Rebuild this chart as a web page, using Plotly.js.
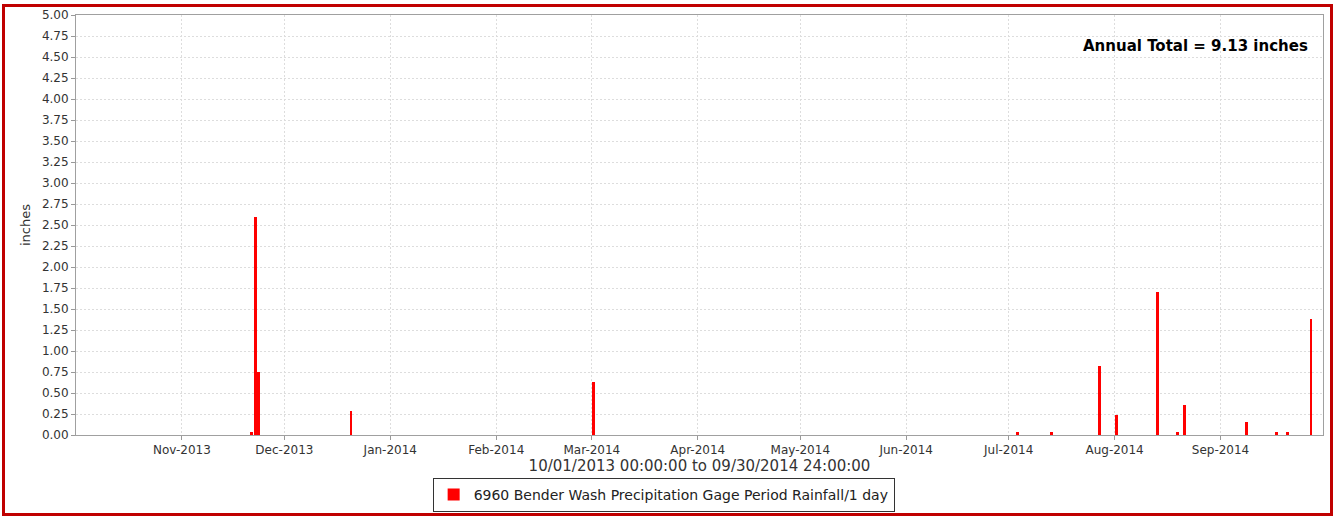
<!DOCTYPE html>
<html>
<head>
<meta charset="utf-8">
<script src="https://cdn.plot.ly/plotly-3.0.1.min.js"></script>
<style>
  html, body { margin: 0; padding: 0; background: #fff; }
  #wrap { position: relative; width: 1335px; height: 516px; }
  #chart { width: 1335px; height: 516px; }
  #frame { position: absolute; left: 2px; top: 4px; width: 1331px; height: 512px; box-sizing: border-box; border: 3px solid #c00000; pointer-events: none; }
</style>
</head>
<body>
<div id="wrap">
  <div id="chart"></div>
  <div id="frame"></div>
</div>
<script>
// Daily rainfall (inches), 6960 Bender Wash Precipitation Gage, WY2014
const dates = [
  '2013-11-21', '2013-11-22', '2013-11-23', '2013-12-20', '2014-03-01',
  '2014-07-03', '2014-07-13', '2014-07-27', '2014-08-01', '2014-08-13',
  '2014-08-19', '2014-08-21', '2014-09-08', '2014-09-17', '2014-09-20',
  '2014-09-27'
];
const rainfall = [
  0.04, 2.59, 0.75, 0.28, 0.63,
  0.03, 0.03, 0.82, 0.24, 1.70,
  0.04, 0.36, 0.16, 0.04, 0.04,
  1.38
];
const monthTicks = [
  '2013-11-01', '2013-12-01', '2014-01-01', '2014-02-01', '2014-03-01', '2014-04-01',
  '2014-05-01', '2014-06-01', '2014-07-01', '2014-08-01', '2014-09-01'
];
const monthLabels = [
  'Nov-2013', 'Dec-2013', 'Jan-2014', 'Feb-2014', 'Mar-2014', 'Apr-2014',
  'May-2014', 'Jun-2014', 'Jul-2014', 'Aug-2014', 'Sep-2014'
];
const seriesName = '6960 Bender Wash Precipitation Gage Period Rainfall/1 day';
const xTitle = '10/01/2013 00:00:00 to 09/30/2014 24:00:00';
const yTitle = 'inches';
const totalLabel = 'Annual Total = ' + rainfall.reduce((a, b) => a + b, 0).toFixed(2) + ' inches';

const DAY = 86400000;
const font = 'DejaVu Sans, sans-serif';

const trace = {
  type: 'bar',
  x: dates,
  y: rainfall,
  name: seriesName,
  xperiod: DAY,
  xperiodalignment: 'middle',
  width: DAY * 0.85,
  marker: { color: '#ff0000', line: { width: 0 } },
  showlegend: true
};

const layout = {
  width: 1335,
  height: 516,
  margin: { l: 76, r: 12, t: 15, b: 81, autoexpand: false },
  paper_bgcolor: '#ffffff',
  plot_bgcolor: '#ffffff',
  font: { family: font, color: '#333', size: 12 },
  showlegend: true,
  bargap: 0,
  xaxis: {
    type: 'date',
    range: ['2013-10-01', '2014-10-01'],
    tickvals: monthTicks,
    ticktext: monthLabels,
    ticks: 'outside',
    ticklen: 4,
    tickcolor: '#999',
    showgrid: true,
    gridcolor: '#dddddd',
    griddash: '2px,2px',
    gridwidth: 1,
    showline: true,
    linecolor: '#a0a0a0',
    linewidth: 1,
    mirror: true,
    zeroline: false,
    automargin: false,
    tickfont: { family: font, size: 12, color: '#333' },
    title: { text: xTitle, font: { family: font, size: 15, color: '#333' }, standoff: 4 }
  },
  yaxis: {
    range: [0, 5],
    dtick: 0.25,
    tick0: 0,
    tickformat: '.2f',
    ticks: 'outside',
    ticklen: 4,
    tickcolor: '#999',
    showgrid: true,
    gridcolor: '#dddddd',
    griddash: '2px,2px',
    gridwidth: 1,
    showline: true,
    linecolor: '#a0a0a0',
    linewidth: 1,
    mirror: true,
    zeroline: false,
    automargin: false,
    tickfont: { family: font, size: 12, color: '#333' },
    title: { text: yTitle, font: { family: font, size: 13, color: '#333' }, standoff: 8 }
  },
  legend: {
    x: 0.286,
    xanchor: 'left',
    y: -0.102,
    yanchor: 'top',
    orientation: 'h',
    bordercolor: '#333',
    borderwidth: 1,
    bgcolor: '#ffffff',
    font: { family: font, size: 14, color: '#222' },
    itemwidth: 30
  },
  annotations: [{
    xref: 'paper', yref: 'paper',
    x: 0.9896, y: 0.926,
    xanchor: 'right', yanchor: 'middle',
    text: '<b>' + totalLabel + '</b>',
    showarrow: false,
    font: { family: font, size: 15, color: '#000' }
  }]
};

Plotly.newPlot('chart', [trace], layout, { displayModeBar: false, staticPlot: true });
</script>
</body>
</html>
